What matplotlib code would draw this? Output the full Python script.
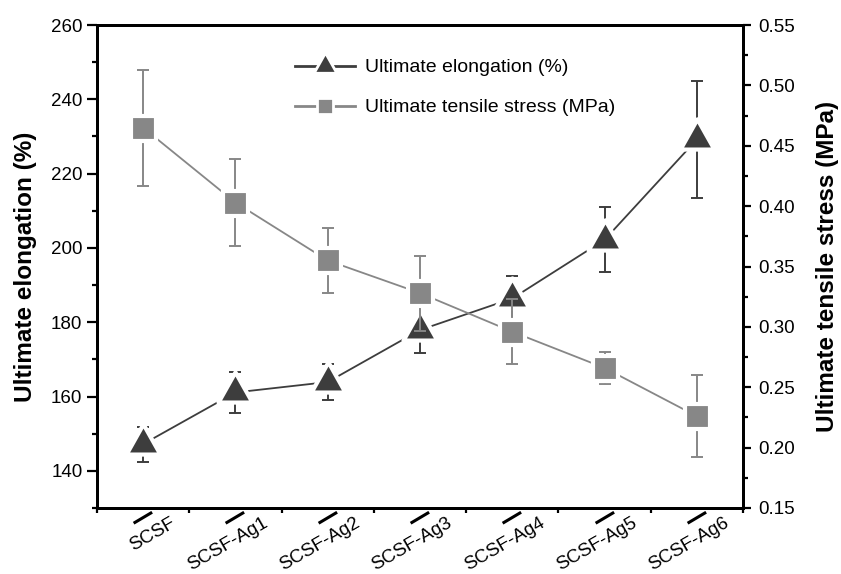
import numpy as np
import matplotlib
matplotlib.use("Agg")
import matplotlib.pyplot as plt
from matplotlib.lines import Line2D
from matplotlib.markers import MarkerStyle
from matplotlib.path import Path
from matplotlib.ticker import MultipleLocator, FixedLocator, FormatStrFormatter
from matplotlib.transforms import ScaledTranslation

plt.rcParams['font.family'] = ['Liberation Sans', 'DejaVu Sans']

# data
samples = ['SCSF', 'SCSF-Ag1', 'SCSF-Ag2', 'SCSF-Ag3', 'SCSF-Ag4', 'SCSF-Ag5', 'SCSF-Ag6']
elongation = [147.2, 161.1, 163.9, 177.9, 186.4, 202.2, 229.2]
elongation_err = [4.7, 5.4, 4.8, 6.3, 6.0, 8.7, 15.7]
stress = [0.465, 0.403, 0.355, 0.328, 0.296, 0.266, 0.226]
stress_err = [0.048, 0.036, 0.027, 0.031, 0.027, 0.013, 0.034]

dark = '#3d3d3d'
grey = '#878787'

# triangle centred on its centroid (Origin style)
tri = MarkerStyle(Path([(-1, -0.593), (1, -0.593), (0, 1.187), (-1, -0.593)],
                       [Path.MOVETO, Path.LINETO, Path.LINETO, Path.CLOSEPOLY]))
# slanted category tick
slant = MarkerStyle(Path([(0.585, -0.255), (-0.67, -1.0)], [Path.MOVETO, Path.LINETO]))

fig = plt.figure(figsize=(8.41, 5.74), dpi=100)
ax = fig.add_axes([0.1153, 0.115, 0.7682, 0.8414])
ax2 = ax.twinx()

x = np.arange(len(samples))

# elongation (left axis)
ax.errorbar(x, elongation, yerr=elongation_err, fmt='none', ecolor=dark,
            elinewidth=1.4, capsize=4.3, capthick=1.4, zorder=2)
ax.plot(x, elongation, color=dark, lw=1.3, marker=tri, ms=29, mfc=dark,
        mec='white', mew=3, zorder=3)

# tensile stress (right axis)
ax2.errorbar(x, stress, yerr=stress_err, fmt='none', ecolor=grey,
             elinewidth=1.4, capsize=4.3, capthick=1.4, zorder=2)
ax2.plot(x, stress, color=grey, lw=1.3, marker='s', ms=18, mfc=grey,
         mec='white', mew=3, zorder=3)

ax.set_xlim(-0.5, len(samples) - 0.5)
ax.set_ylim(130, 260)
ax2.set_ylim(0.15, 0.55)

ax.yaxis.set_major_locator(MultipleLocator(20))
ax.yaxis.set_minor_locator(MultipleLocator(10))
ax2.yaxis.set_major_locator(MultipleLocator(0.05))
ax2.yaxis.set_minor_locator(MultipleLocator(0.025))
ax2.yaxis.set_major_formatter(FormatStrFormatter('%.2f'))

ax.set_xticks(x)
ax.set_xticklabels(samples, rotation=30, ha='right', va='center',
                   rotation_mode='anchor', fontsize=13.5)
ax.xaxis.set_minor_locator(FixedLocator(np.arange(-0.5, len(samples), 1)))

for a in (ax, ax2):
    for sp in a.spines.values():
        sp.set_linewidth(2.1)

ax.tick_params(axis='y', which='major', direction='out', length=7, width=1.6,
               labelsize=13.5, pad=3.5)
ax.tick_params(axis='y', which='minor', direction='out', length=3.6, width=1.6)
ax.tick_params(axis='x', which='major', length=0, pad=10, labelsize=13.5)
ax.tick_params(axis='x', which='minor', direction='out', length=3.6, width=1.6)
ax2.tick_params(axis='y', which='major', direction='out', length=6, width=1.6,
                labelsize=13.5, pad=5)
ax2.tick_params(axis='y', which='minor', direction='out', length=3.6, width=1.6)

# slanted major ticks and shifted labels on the category axis
shift = ScaledTranslation(0.31, 0, fig.dpi_scale_trans)
for t in ax.xaxis.get_major_ticks():
    t.tick1line.set_marker(slant)
    t.tick1line.set_markersize(21.2)
    t.tick1line.set_markeredgewidth(2.2)
    t.tick1line.set_markeredgecolor('black')
    t.label1.set_transform(t.label1.get_transform() + shift)

ax.set_ylabel('Ultimate elongation (%)', fontsize=17.5, fontweight='bold')
ax.yaxis.set_label_coords(-0.093, 0.5)
ax2.set_ylabel('Ultimate tensile stress (MPa)', fontsize=17.5, fontweight='bold')
ax2.yaxis.set_label_coords(1.113, 0.5)

handles = [
    Line2D([], [], color=dark, lw=2, marker=tri, ms=19.5, mfc=dark, mec='white', mew=2),
    Line2D([], [], color=grey, lw=2, marker='s', ms=11.4, mfc=grey, mec='white', mew=2),
]
labels = ['Ultimate elongation (%)', 'Ultimate tensile stress (MPa)']
ax2.legend(handles, labels, loc='upper left', bbox_to_anchor=(0.306, 0.930),
           frameon=False, fontsize=14, handlelength=3.1, handletextpad=0.5,
           labelspacing=1.15, borderpad=0, borderaxespad=0)

fig.savefig('out.png', dpi=100)
